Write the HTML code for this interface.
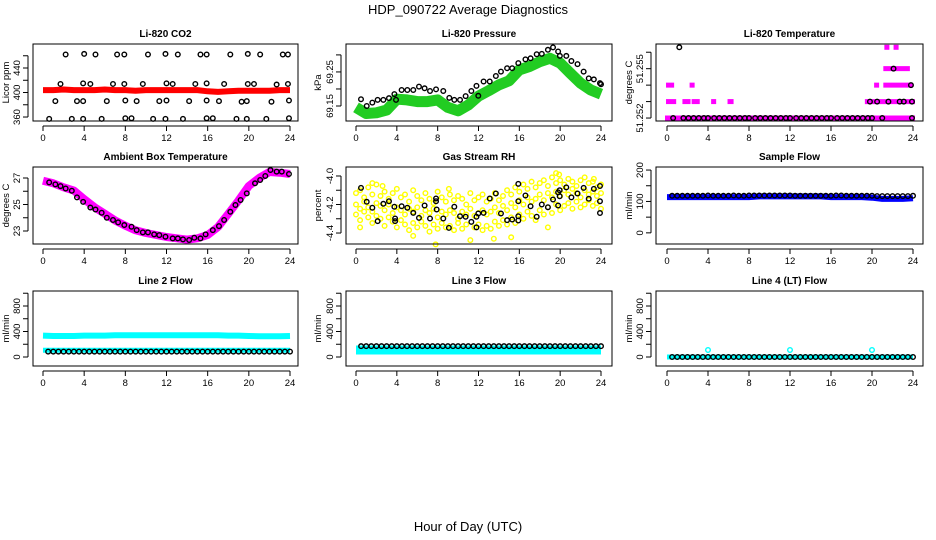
<!DOCTYPE html>
<html><head><meta charset="utf-8">
<style>
html,body{margin:0;padding:0;background:#fff;}
svg{display:block;font-family:"Liberation Sans",sans-serif;}
</style></head>
<body>
<svg id="chart" width="936" height="540" viewBox="0 0 936 540" xmlns="http://www.w3.org/2000/svg">
<rect x="0" y="0" width="936" height="540" fill="#fff"/>
<text x="468" y="14" font-size="13" text-anchor="middle">HDP_090722  Average Diagnostics</text>
<text x="468" y="531" font-size="13" text-anchor="middle">Hour of Day (UTC)</text>
</svg>
<script>
// ---- data ----
const xTicks = [0,4,8,12,16,20,24];
const halfHours = [0.5,1,1.5,2,2.5,3,3.5,4,4.5,5,5.5,6,6.5,7,7.5,8,8.5,9,9.5,10,10.5,11,11.5,12,12.5,13,13.5,14,14.5,15,15.5,16,16.5,17,17.5,18,18.5,19,19.5,20,20.5,21,21.5,22,22.5,23,23.5,24];
const hourly = [0,1,2,3,4,5,6,7,8,9,10,11,12,13,14,15,16,17,18,19,20,21,22,23,24];

// CO2
const co2Band = [404,404,405,404,404,404,405,404,404,403,404,404,404,404,404,404,402,401,402,403,403,403,403,404,404];
const co2BlackHours = [2.2,4.0,5.1,7.2,7.9,10.2,11.9,13.1,15.3,15.9,18.2,19.9,21.1,23.3,23.8, 1.7,3.9,4.6,6.8,7.9,9.7,12.0,12.6,14.8,15.9,17.6,19.9,20.5,22.7,23.8, 1.2,3.3,3.9,6.2,8.0,9.1,11.3,12.0,14.2,15.9,17.1,19.3,19.8,22.2,23.9, 0.6,2.8,3.9,5.7,8.0,8.6,10.7,11.9,13.6,15.9,16.5,18.8,19.8,21.7,23.9];
const co2BlackVals = [462,463,462,462,462,462,463,462,462,462,462,463,462,462,462, 414,415,414,414,414,414,415,414,414,415,414,414,414,413,414, 386,386,386,386,387,386,386,387,386,387,386,385,386,385,387, 357,357,357,357,358,358,357,357,357,358,358,357,357,357,358];

// Pressure
const presBand = [69.146,69.128,69.130,69.138,69.170,69.168,69.163,69.163,69.168,69.146,69.136,69.153,69.179,69.195,69.212,69.224,69.256,69.266,69.280,69.290,69.276,69.246,69.217,69.197,69.185];
const presBlackHours = [0.49,1.05,1.6,2.12,2.68,3.23,3.76,3.92,4.47,5.03,5.61,6.17,6.72,7.25,7.84,8.55,9.14,9.63,10.19,10.74,11.3,11.8,11.98,12.5,13.1,13.7,14.2,14.8,15.3,15.9,16.6,17.1,17.7,18.2,18.8,19.3,19.8,19.97,20.6,21.1,21.7,22.3,22.8,23.3,23.9,24.0];
const presBlackVals = [69.170,69.150,69.160,69.168,69.168,69.173,69.185,69.168,69.197,69.197,69.197,69.207,69.202,69.194,69.199,69.194,69.174,69.168,69.168,69.179,69.194,69.209,69.180,69.222,69.222,69.238,69.251,69.261,69.261,69.276,69.287,69.290,69.302,69.303,69.315,69.322,69.310,69.297,69.297,69.282,69.273,69.251,69.231,69.228,69.217,69.214];

// Li-820 temperature: magenta runs [start hour, end hour, value]
const tempRunStart = [0.0,0.1,1.7,2.6,4.5,6.1,19.5,0.1,2.4,20.4,21.3,21.3,21.4,22.3];
const tempRunEnd   = [24.0,0.7,2.1,3.0,4.6,6.3,24.0,0.5,2.5,20.5,23.8,23.5,21.5,22.4];
const tempRunVal   = [51.252,51.253,51.253,51.253,51.253,51.253,51.253,51.254,51.254,51.254,51.254,51.255,51.2563,51.2563];
const tempBlackHours = [0.6,1.6,2.1,2.6,3.1,3.6,4.0,4.6,5.1,5.6,6.1,6.6,7.1,7.6,8.0,8.6,9.1,9.6,10.1,10.6,11.1,11.6,12.0,12.6,13.1,13.6,14.1,14.6,15.1,15.6,16.0,16.6,17.1,17.6,18.1,18.6,19.1,19.6,20.0,21.0,23.9, 19.8,20.5,21.6,22.7,23.1,23.9, 22.1, 23.8, 1.2];
const tempBlackVals  = [51.252,51.252,51.252,51.252,51.252,51.252,51.252,51.252,51.252,51.252,51.252,51.252,51.252,51.252,51.252,51.252,51.252,51.252,51.252,51.252,51.252,51.252,51.252,51.252,51.252,51.252,51.252,51.252,51.252,51.252,51.252,51.252,51.252,51.252,51.252,51.252,51.252,51.252,51.252,51.252,51.252, 51.253,51.253,51.253,51.253,51.253,51.253, 51.255, 51.254, 51.2563];

// Ambient
const ambBand = [26.8,26.6,26.3,26.05,25.4,24.8,24.3,23.8,23.4,23.05,22.85,22.7,22.55,22.45,22.35,22.45,22.7,23.3,24.3,25.3,26.4,27.0,27.45,27.4,27.3];
const ambBlackHours = [0.6,1.2,1.7,2.2,2.8,3.3,3.9,4.6,5.1,5.7,6.2,6.8,7.3,7.9,8.6,9.1,9.7,10.2,10.8,11.3,11.9,12.6,13.1,13.6,14.2,14.7,15.3,15.8,16.5,17.1,17.6,18.2,18.7,19.2,19.8,20.6,21.1,21.6,22.1,22.7,23.2,23.9];
const ambBlackVals = [26.67,26.52,26.39,26.21,26.04,25.54,25.2,24.77,24.62,24.38,24.0,23.83,23.65,23.45,23.32,23.07,22.9,22.9,22.75,22.69,22.57,22.44,22.44,22.37,22.32,22.49,22.44,22.75,23.07,23.37,23.83,24.45,24.96,25.34,25.84,26.6,26.85,27.15,27.6,27.48,27.48,27.3];

// Gas stream RH
const rhHours = [0,0.4,0.8,1.2,1.6,2,2.4,2.8,3.2,3.6,4,4.4,4.8,5.2,5.6,6,6.4,6.8,7.2,7.6,8,8.4,8.8,9.2,9.6,10,10.4,10.8,11.2,11.6,12,12.4,12.8,13.2,13.6,14,14.4,14.8,15.2,15.6,16,16.4,16.8,17.2,17.6,18,18.4,18.8,19.2,19.6,20,20.4,20.8,21.2,21.6,22,22.4,22.8,23.2,23.6,24];
const rhYellowA = [-4.12,-4.10,-4.15,-4.08,-4.13,-4.06,-4.14,-4.11,-4.16,-4.12,-4.09,-4.15,-4.13,-4.18,-4.10,-4.14,-4.17,-4.12,-4.16,-4.19,-4.11,-4.15,-4.18,-4.13,-4.17,-4.14,-4.16,-4.20,-4.12,-4.17,-4.15,-4.13,-4.18,-4.16,-4.12,-4.17,-4.14,-4.10,-4.13,-4.08,-4.11,-4.06,-4.09,-4.04,-4.08,-4.05,-4.03,-4.07,-4.01,-4.05,-4.03,-4.06,-4.02,-4.04,-4.07,-4.03,-4.01,-4.05,-4.04,-4.08,-4.06];
const rhYellowB = [-4.20,-4.23,-4.18,-4.22,-4.25,-4.19,-4.21,-4.24,-4.20,-4.26,-4.22,-4.24,-4.27,-4.23,-4.25,-4.22,-4.28,-4.24,-4.26,-4.23,-4.29,-4.25,-4.27,-4.24,-4.26,-4.30,-4.25,-4.27,-4.23,-4.28,-4.26,-4.24,-4.27,-4.25,-4.22,-4.26,-4.21,-4.24,-4.19,-4.22,-4.17,-4.20,-4.15,-4.18,-4.16,-4.13,-4.17,-4.12,-4.15,-4.11,-4.14,-4.10,-4.13,-4.09,-4.12,-4.15,-4.10,-4.13,-4.11,-4.14,-4.12];
const rhYellowC = [-4.27,-4.31,-4.25,-4.29,-4.33,-4.28,-4.30,-4.35,-4.29,-4.32,-4.36,-4.31,-4.34,-4.38,-4.33,-4.36,-4.32,-4.35,-4.39,-4.34,-4.37,-4.33,-4.36,-4.35,-4.38,-4.33,-4.37,-4.34,-4.45,-4.36,-4.34,-4.38,-4.35,-4.37,-4.32,-4.35,-4.31,-4.34,-4.29,-4.33,-4.27,-4.30,-4.25,-4.28,-4.31,-4.24,-4.27,-4.22,-4.26,-4.20,-4.24,-4.21,-4.19,-4.23,-4.18,-4.22,-4.20,-4.17,-4.21,-4.19,-4.23];
const rhExtraHours = [0.4,1.6,5.6,7.8,13.5,15.2,19.6,18.8,2.6,9.1,19.9,23.3];
const rhExtraVals = [-4.36,-4.05,-4.42,-4.48,-4.44,-4.43,-3.98,-4.36,-4.07,-4.09,-3.99,-4.02];
const rhBlackHours = [0.49,1.05,1.6,2.12,2.68,3.23,3.76,3.83,3.83,4.47,5.03,5.61,6.17,6.72,7.25,7.84,7.84,7.9,8.55,9.1,9.63,10.19,10.74,11.3,11.8,11.98,11.8,12.5,13.1,13.7,14.2,14.8,15.3,15.9,15.9,15.9,15.9,16.6,17.1,17.7,18.2,18.8,19.3,19.8,19.8,19.95,19.95,20.6,21.1,21.7,22.3,22.8,23.3,23.9,23.9,23.9];
const rhBlackVals = [-4.083,-4.181,-4.223,-4.317,-4.195,-4.177,-4.216,-4.298,-4.317,-4.212,-4.223,-4.259,-4.294,-4.207,-4.298,-4.158,-4.177,-4.235,-4.298,-4.364,-4.216,-4.282,-4.286,-4.322,-4.286,-4.263,-4.36,-4.259,-4.158,-4.123,-4.263,-4.31,-4.305,-4.312,-4.282,-4.177,-4.055,-4.137,-4.212,-4.286,-4.2,-4.219,-4.165,-4.207,-4.115,-4.142,-4.1,-4.08,-4.15,-4.123,-4.083,-4.16,-4.09,-4.177,-4.07,-4.26];

// Sample flow
const sfBand = [114,114,114,114,114,114,114,114,114,116,116,116,116,116,116,116,114,114,114,114,112,108,108,108,110];
const sfBlack = [118,118,118,118,118,118,118,119,118,118,118,118,119,118,118,119,119,119,119,119,119,119,119,119,118,118,118,118,118,118,118,118,119,119,118,118,118,118,118,118,117,117,117,117,117,117,117,118];

// Line flows
const l2Upper = [335,330,330,330,335,335,335,340,340,340,340,340,340,340,340,340,340,340,335,335,330,325,325,325,330];
const l2Lower = [105,105,105,105,105,105,105,105,105,105,105,105,105,105,105,105,105,105,105,105,105,105,105,105,105];
const l2Black = [85,85,85,85,85,85,85,85,85,85,85,85,85,85,85,85,85,85,85,85,85,85,85,85,85,85,85,85,85,85,85,85,85,85,85,85,85,85,85,85,85,85,85,85,85,85,85,85];
const l3Band = [110,110,110,110,110,110,110,110,110,110,110,110,110,110,110,110,110,110,110,110,110,110,110,110,110];
const l3Black = [170,170,170,170,170,170,170,170,170,170,170,170,170,170,170,170,170,170,170,170,170,170,170,170,170,170,170,170,170,170,170,170,170,170,170,170,170,170,170,170,170,170,170,170,170,170,170,170];
const l4Band = [0,0,0,0,0,0,0,0,0,0,0,0,0,0,0,0,0,0,0,0,0,0,0,0,0];
const l4Black = [0,0,0,0,0,0,0,0,0,0,0,0,0,0,0,0,0,0,0,0,0,0,0,0,0,0,0,0,0,0,0,0,0,0,0,0,0,0,0,0,0,0,0,0,0,0,0,0];
const l4OutHours = [4,12,20];
const l4OutVals = [110,110,110];

// ---- layout ----
const NS = "http://www.w3.org/2000/svg";
const svg = document.getElementById('chart');
const cols = [{l:33,r:298,x0:43,x24:290,lab:9},{l:346,r:612,x0:356,x24:601,lab:321},{l:656,r:923,x0:667,x24:913,lab:632}];
const rows = [{t:44,b:121},{t:167,b:244},{t:291,b:366}];

function el(tag, attrs, parent){
  const e = document.createElementNS(NS, tag);
  for (const k in attrs) e.setAttribute(k, attrs[k]);
  (parent||svg).appendChild(e);
  return e;
}

function makePanel(ci, ri, title, ylab, ylo, yhi, ticks, labels, name){
  const c = cols[ci], r = rows[ri];
  const g = el('g', {});
  
  
  const xs = h => c.x0 + (c.x24 - c.x0) * h / 24;
  const ys = v => r.b - (v - ylo) / (yhi - ylo) * (r.b - r.t);
  const plot = el('g', {}, g);
  
  
  const axes = () => {
    const box = el('rect', {x:c.l, y:r.t, width:c.r-c.l, height:r.b-r.t, fill:'none', stroke:'#000', 'stroke-width':1}, g);
    
    
    const t = el('text', {x:(c.l+c.r)/2, y:r.t-7, 'font-size':10, 'font-weight':'bold', 'text-anchor':'middle'}, g);
    t.textContent = title;
    
    
    const xa = el('g', {}, g);
    
    
    el('line', {x1:xs(0), x2:xs(24), y1:r.b+5, y2:r.b+5, stroke:'#000'}, xa);
    xTicks.forEach(h => {
      el('line', {x1:xs(h), x2:xs(h), y1:r.b+5, y2:r.b+10, stroke:'#000'}, xa);
      const tl = el('text', {x:xs(h), y:r.b+20, 'font-size':9.5, 'text-anchor':'middle'}, xa);
      tl.textContent = h;
      
      
    });
    const ya = el('g', {}, g);
    
    
    el('line', {x1:c.l-5, x2:c.l-5, y1:ys(ticks[0]), y2:ys(ticks[ticks.length-1]), stroke:'#000'}, ya);
    ticks.forEach(v => el('line', {x1:c.l-10, x2:c.l-5, y1:ys(v), y2:ys(v), stroke:'#000'}, ya));
    labels.forEach(v => {
      const yy = ys(parseFloat(v));
      const tl = el('text', {x:0, y:0, 'font-size':9.5, 'text-anchor':'middle', transform:`translate(${c.l-13},${yy}) rotate(-90)`}, ya);
      tl.textContent = v;
      
      
    });
    const yl = el('text', {x:0, y:0, 'font-size':9.5, 'text-anchor':'middle', transform:`translate(${c.lab},${(r.t+r.b)/2}) rotate(-90)`}, g);
    yl.textContent = ylab;
    
    
  };
  return {g, plot, xs, ys, axes};
}

function band(p, hours, vals, color, w, name){
  const pts = hours.map((h,i)=> vals[i]===undefined ? null : p.xs(h).toFixed(1)+','+p.ys(vals[i]).toFixed(1)).filter(s=>s).join(' ');
  const pl = el('polyline', {points:pts, fill:'none', stroke:color, 'stroke-width':w, 'stroke-linejoin':'round'}, p.plot);
  
  
}
function pts(p, hours, vals, color, name, r){
  hours.forEach((h,i)=>{
    if (vals[i]===undefined) return;
    const c = el('circle', {cx:p.xs(h), cy:p.ys(vals[i]), r:r||2.3, fill:'none', stroke:color, 'stroke-width':1.4}, p.plot);
    
    
  });
}

// CO2
let p = makePanel(0,0,'Li-820 CO2','Licor ppm',353.5,479.2,[360,380,400,420,440,460],['360','400','440'],'co2');
band(p, hourly, co2Band, '#f00', 6, 'co2-band');
pts(p, co2BlackHours, co2BlackVals, '#000', 'co2-point');
p.axes();

// Pressure
p = makePanel(1,0,'Li-820 Pressure','kPa',69.106,69.332,[69.15,69.20,69.25,69.30],['69.15','69.25'],'pressure');
band(p, hourly, presBand, '#22cc22', 11, 'pressure-band');
pts(p, presBlackHours, presBlackVals, '#000', 'pressure-point');
p.axes();

// Temperature
p = makePanel(2,0,'Li-820 Temperature','degrees C',51.25182,51.2565,[51.252,51.253,51.254,51.255,51.256],['51.252','51.255'],'li820-temp');
tempRunStart.forEach((s,i)=>{
  const ln = el('line', {x1:p.xs(s)-2, x2:p.xs(tempRunEnd[i])+2, y1:p.ys(tempRunVal[i]), y2:p.ys(tempRunVal[i]), stroke:'#f0f', 'stroke-width':5}, p.plot);
  
  
});
pts(p, tempBlackHours, tempBlackVals, '#000', 'temp-point');
p.axes();

// Ambient
p = makePanel(0,1,'Ambient Box Temperature','degrees C',22.02,27.83,[23,24,25,26,27],['23','25','27'],'ambient');
band(p, hourly, ambBand, '#f0f', 8, 'ambient-band');
pts(p, ambBlackHours, ambBlackVals, '#000', 'ambient-point');
p.axes();

// RH
p = makePanel(1,1,'Gas Stream RH','percent',-4.477,-3.937,[-4.4,-4.3,-4.2,-4.1,-4.0],['-4.4','-4.2','-4.0'],'rh');
pts(p, rhHours, rhYellowA, '#ff0', 'rh-yellow-point');
pts(p, rhHours, rhYellowB, '#ff0', 'rh-yellow-point');
pts(p, rhHours, rhYellowC, '#ff0', 'rh-yellow-point');
pts(p, rhExtraHours, rhExtraVals, '#ff0', 'rh-yellow-point');
pts(p, rhBlackHours, rhBlackVals, '#000', 'rh-point');
p.axes();

// Sample flow
p = makePanel(2,1,'Sample Flow','ml/min',-35.5,209.7,[0,50,100,150,200],['0','100','200'],'sample-flow');
band(p, hourly, sfBand, '#00f', 6, 'sample-flow-band');
pts(p, halfHours, sfBlack, '#000', 'sample-flow-point');
p.axes();

// Line 2
p = makePanel(0,2,'Line 2 Flow','ml/min',-141,1035,[0,200,400,600,800,1000],['0','400','800'],'line2');
band(p, hourly, l2Upper, '#0ff', 6, 'line2-upper-band');
band(p, hourly, l2Lower, '#0ff', 5, 'line2-lower-band');
pts(p, halfHours, l2Black, '#000', 'line2-point');
p.axes();

// Line 3
p = makePanel(1,2,'Line 3 Flow','ml/min',-141,1035,[0,200,400,600,800,1000],['0','400','800'],'line3');
band(p, hourly, l3Band, '#0ff', 9, 'line3-band');
pts(p, halfHours, l3Black, '#000', 'line3-point');
p.axes();

// Line 4
p = makePanel(2,2,'Line 4 (LT) Flow','ml/min',-141,1035,[0,200,400,600,800,1000],['0','400','800'],'line4');
band(p, hourly, l4Band, '#0ff', 5, 'line4-band');
pts(p, halfHours, l4Black, '#000', 'line4-point');
pts(p, l4OutHours, l4OutVals, '#0ff', 'line4-outlier');
p.axes();
</script>
</body></html>
